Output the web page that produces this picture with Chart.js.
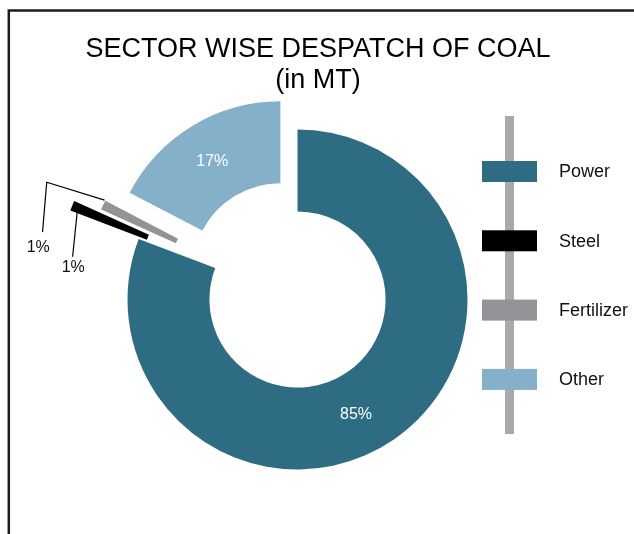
<!DOCTYPE html>
<html>
<head>
<meta charset="utf-8">
<title>Sector wise despatch of coal</title>
<script src="https://cdn.jsdelivr.net/npm/chart.js@4.4.1/dist/chart.umd.min.js"></script>
<style>
  html, body { margin: 0; padding: 0; background: #fff; }
  canvas { display: block; }
</style>
</head>
<body>
<canvas id="coal-chart" width="634" height="534"></canvas>
<script>
const titleLines = ['SECTOR WISE DESPATCH OF COAL', '(in MT)'];
const sectors = ['Power', 'Steel', 'Fertilizer', 'Other'];
// share of despatch as drawn (slice angles)
const despatchShare = [80.8, 0.95, 0.9, 17.35];
// percentage labels as printed on the chart
const shareLabels = ['85%', '1%', '1%', '17%'];

const sectorColors = ['#2e6c84', '#000000', '#939397', '#85b0c9'];
// how far each slice is pulled out from the centre (px)
const explodePx = [0, 74, 46, 33];
const FONT = "'Liberation Sans', Arial, Helvetica, sans-serif";

function sliceShift(arc, i) {
    const mid = (arc.startAngle + arc.endAngle) / 2;
    const d = explodePx[i] || 0;
    return { mid, dx: Math.cos(mid) * d, dy: Math.sin(mid) * d };
}

// frame lines + title
const framePlugin = {
    id: 'frame',
    beforeDraw(chart) {
        const ctx = chart.ctx;
        ctx.save();
        ctx.strokeStyle = '#1c1c1c';
        ctx.lineWidth = 2.5;
        ctx.beginPath();
        ctx.moveTo(8.8, 534);
        ctx.lineTo(8.8, 10.5);
        ctx.lineTo(634, 10.5);
        ctx.stroke();

        ctx.fillStyle = '#000';
        ctx.font = '27px ' + FONT;
        ctx.textAlign = 'center';
        ctx.textBaseline = 'alphabetic';
        ctx.fillText(titleLines[0], 318, 57);
        ctx.fillText(titleLines[1], 318, 88);
        ctx.restore();
    }
};

// Chart.js "offset" shrinks thin slices to nothing, so pull slices out by translating instead
const explodePlugin = {
    id: 'explode',
    beforeDatasetDraw(chart, args) {
        const ctx = chart.ctx;
        args.meta.data.forEach((arc, i) => {
            const s = sliceShift(arc, i);
            ctx.save();
            ctx.translate(s.dx, s.dy);
            arc.draw(ctx);
            ctx.restore();
        });
        return false;
    }
};

// legend with the grey spine behind the swatches
const legendPlugin = {
    id: 'spineLegend',
    afterDraw(chart) {
        const ctx = chart.ctx;
        const bgs = chart.data.datasets[0].backgroundColor;
        const x = 509.5, top = 116, bottom = 434;
        const first = 171.5, step = 69.3;
        ctx.save();
        ctx.fillStyle = '#a9a9ad';
        ctx.fillRect(x - 4.5, top, 9, bottom - top);
        ctx.font = '18px ' + FONT;
        ctx.textBaseline = 'middle';
        ctx.textAlign = 'left';
        chart.data.labels.forEach((lbl, i) => {
            const y = first + i * step;
            ctx.fillStyle = bgs[i];
            ctx.fillRect(x - 27.5, y - 10.5, 55, 21);
            ctx.fillStyle = '#111';
            ctx.fillText(lbl, 559, y + 1);
        });
        ctx.restore();
    }
};

// leader lines for the thin slices, relative to the slice's outer tip
const leaders = {
    1: { path: [[5, 6], [0.4, 51]], text: [1, 61.5] },
    2: { path: [[1.3, -5], [-56.5, -22.8], [-60.7, 27]], text: [-65, 43] }
};

const sliceLabelPlugin = {
    id: 'sliceLabels',
    afterDatasetsDraw(chart) {
        const ctx = chart.ctx;
        const meta = chart.getDatasetMeta(0);
        ctx.save();
        ctx.font = '16px ' + FONT;
        ctx.textAlign = 'center';
        ctx.textBaseline = 'middle';
        meta.data.forEach((arc, i) => {
            const s = sliceShift(arc, i);
            const cx = arc.x + s.dx;
            const cy = arc.y + s.dy;
            const pct = parseFloat(shareLabels[i]);
            if (leaders[i]) {
                const tx = cx + Math.cos(s.mid) * arc.outerRadius;
                const ty = cy + Math.sin(s.mid) * arc.outerRadius;
                const L = leaders[i];
                ctx.strokeStyle = '#000';
                ctx.lineWidth = 1.2;
                ctx.beginPath();
                L.path.forEach(([dx, dy], k) => {
                    if (k === 0) ctx.moveTo(tx + dx, ty + dy);
                    else ctx.lineTo(tx + dx, ty + dy);
                });
                ctx.stroke();
                ctx.fillStyle = '#111';
                ctx.fillText(shareLabels[i], tx + L.text[0], ty + L.text[1]);
            } else {
                // label sits half-way along the printed share
                const a = arc.startAngle + pct / 100 * Math.PI;
                const r = (arc.innerRadius + arc.outerRadius) / 2;
                ctx.fillStyle = '#fff';
                ctx.fillText(shareLabels[i], cx + Math.cos(a) * r, cy + Math.sin(a) * r);
            }
        });
        ctx.restore();
    }
};

const ctx = document.getElementById('coal-chart').getContext('2d');
new Chart(ctx, {
    type: 'doughnut',
    data: {
        labels: sectors,
        datasets: [{
            data: despatchShare,
            backgroundColor: sectorColors,
            borderWidth: 0
        }]
    },
    options: {
        responsive: false,
        animation: false,
        radius: 170,
        cutout: '51.8%',
        layout: { padding: { left: 0, right: 39, top: 65, bottom: 0 } },
        plugins: {
            legend: { display: false },
            title: { display: false },
            tooltip: { enabled: false }
        }
    },
    plugins: [framePlugin, explodePlugin, legendPlugin, sliceLabelPlugin]
});
</script>
</body>
</html>
